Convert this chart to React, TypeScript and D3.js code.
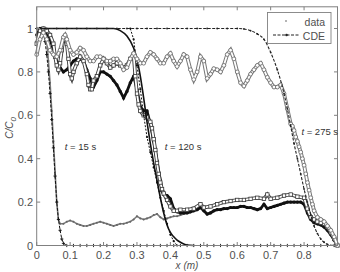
import React from 'react';
import * as d3 from 'd3';

// x positions (m) and C/C0 values
const cde15: [number, number][] = [
  [0, 1], [0.01, 1], [0.02, 0.98], [0.025, 0.94], [0.03, 0.88], [0.035, 0.8], [0.04, 0.7],
  [0.045, 0.58], [0.05, 0.45], [0.055, 0.32], [0.06, 0.2], [0.065, 0.12], [0.07, 0.07],
  [0.075, 0.03], [0.08, 0.01], [0.09, 0], [0.11, 0], [0.13, 0], [0.15, 0], [0.17, 0], [0.19, 0],
  [0.21, 0], [0.23, 0], [0.25, 0], [0.27, 0], [0.29, 0], [0.31, 0], [0.33, 0], [0.35, 0],
  [0.37, 0], [0.39, 0], [0.41, 0], [0.43, 0], [0.45, 0], [0.47, 0], [0.49, 0], [0.51, 0],
  [0.53, 0], [0.55, 0], [0.57, 0], [0.59, 0], [0.61, 0], [0.63, 0], [0.65, 0], [0.67, 0],
  [0.69, 0], [0.71, 0], [0.73, 0], [0.75, 0], [0.77, 0], [0.79, 0], [0.81, 0], [0.83, 0],
  [0.85, 0], [0.87, 0], [0.89, 0], [0.9, 0],
];

const cde120Smooth: [number, number][] = [
  [0, 1], [0.1, 1], [0.2, 1], [0.23, 1], [0.25, 0.99], [0.27, 0.965], [0.29, 0.91], [0.3, 0.86],
  [0.31, 0.78], [0.32, 0.68], [0.33, 0.57], [0.34, 0.47], [0.35, 0.38], [0.36, 0.3],
  [0.37, 0.22], [0.38, 0.15], [0.39, 0.095], [0.4, 0.06], [0.41, 0.04], [0.42, 0.025],
  [0.43, 0.015], [0.44, 0.007], [0.45, 0.002], [0.47, 0],
];

const cde120: [number, number][] = [
  [0.28, 1], [0.29, 0.95], [0.3, 0.83], [0.31, 0.72], [0.32, 0.6], [0.33, 0.5], [0.34, 0.43],
  [0.35, 0.36], [0.36, 0.29], [0.37, 0.22], [0.38, 0.16], [0.39, 0.1], [0.4, 0.05],
  [0.41, 0.02], [0.42, 0],
];

const cde275: [number, number][] = [
  [0, 1], [0.03, 1], [0.06, 1], [0.09, 1], [0.12, 1], [0.15, 1], [0.18, 1], [0.21, 1], [0.24, 1],
  [0.27, 1], [0.3, 1], [0.33, 1], [0.36, 1], [0.39, 1], [0.42, 1], [0.45, 1], [0.48, 1],
  [0.51, 1], [0.54, 1], [0.57, 1], [0.6, 1], [0.62, 0.998], [0.64, 0.99], [0.66, 0.975],
  [0.68, 0.95], [0.7, 0.89], [0.72, 0.81], [0.74, 0.7], [0.75, 0.63], [0.76, 0.55],
  [0.77, 0.47], [0.78, 0.4], [0.79, 0.33], [0.8, 0.26], [0.81, 0.2], [0.82, 0.14],
  [0.83, 0.09], [0.84, 0.055], [0.85, 0.03], [0.86, 0.015], [0.87, 0.005], [0.89, 0],
];

const data15: [number, number][] = [
  [0, 0.96], [0.01, 0.99], [0.02, 1], [0.03, 0.95], [0.035, 0.85], [0.04, 0.75], [0.045, 0.62],
  [0.05, 0.48], [0.055, 0.34], [0.06, 0.2], [0.065, 0.12], [0.07, 0.1], [0.08, 0.1],
  [0.09, 0.11], [0.1, 0.115], [0.11, 0.11], [0.12, 0.1], [0.13, 0.095], [0.14, 0.09],
  [0.15, 0.09], [0.16, 0.095], [0.17, 0.1], [0.18, 0.105], [0.19, 0.11], [0.2, 0.105],
  [0.21, 0.1], [0.22, 0.095], [0.23, 0.09], [0.24, 0.095], [0.25, 0.1], [0.26, 0.1],
  [0.27, 0.105], [0.28, 0.11], [0.29, 0.12], [0.3, 0.135], [0.31, 0.125], [0.32, 0.12],
  [0.33, 0.125], [0.34, 0.13], [0.35, 0.14], [0.36, 0.145], [0.37, 0.13], [0.38, 0.12],
  [0.39, 0.125], [0.4, 0.13], [0.41, 0.135], [0.42, 0.135], [0.43, 0.14], [0.44, 0.145],
  [0.45, 0.15], [0.46, 0.16], [0.47, 0.165],
];

const data120: [number, number][] = [
  [0, 0.93], [0.01, 0.99], [0.02, 1], [0.03, 0.99], [0.04, 0.97], [0.05, 0.93], [0.055, 0.87],
  [0.06, 0.83], [0.065, 0.81], [0.07, 0.84], [0.075, 0.9], [0.08, 0.95], [0.085, 0.96],
  [0.09, 0.93], [0.095, 0.86], [0.1, 0.79], [0.105, 0.77], [0.11, 0.8], [0.12, 0.84],
  [0.13, 0.87], [0.14, 0.85], [0.15, 0.79], [0.155, 0.74], [0.16, 0.72], [0.165, 0.72],
  [0.17, 0.76], [0.18, 0.78], [0.19, 0.83], [0.2, 0.86], [0.21, 0.84], [0.22, 0.82],
  [0.23, 0.83], [0.24, 0.84], [0.25, 0.83], [0.26, 0.82], [0.27, 0.83], [0.28, 0.86],
  [0.29, 0.88], [0.295, 0.78], [0.3, 0.7], [0.305, 0.65], [0.31, 0.62], [0.32, 0.6],
  [0.33, 0.59], [0.34, 0.57], [0.345, 0.54], [0.35, 0.49], [0.355, 0.44], [0.36, 0.38],
  [0.365, 0.33], [0.37, 0.29], [0.375, 0.26], [0.38, 0.24], [0.39, 0.21], [0.4, 0.18],
  [0.41, 0.16], [0.42, 0.16], [0.43, 0.165], [0.45, 0.165], [0.47, 0.17], [0.49, 0.19],
  [0.5, 0.175], [0.52, 0.18], [0.54, 0.19], [0.56, 0.2], [0.58, 0.205], [0.6, 0.21],
  [0.62, 0.21], [0.64, 0.215], [0.66, 0.22], [0.68, 0.215], [0.69, 0.235], [0.7, 0.215],
  [0.72, 0.22], [0.74, 0.23], [0.76, 0.235], [0.78, 0.225], [0.8, 0.22], [0.81, 0.17],
  [0.82, 0.13], [0.83, 0.12], [0.84, 0.11], [0.85, 0.105], [0.86, 0.1], [0.87, 0.085],
  [0.88, 0.06], [0.89, 0.03], [0.9, 0],
];

const data120b: [number, number][] = [
  [0, 0.97], [0.01, 1], [0.02, 1], [0.03, 0.98], [0.04, 0.95], [0.05, 0.9], [0.06, 0.85],
  [0.07, 0.82], [0.08, 0.8], [0.09, 0.81], [0.1, 0.83], [0.11, 0.85], [0.12, 0.86],
  [0.13, 0.86], [0.14, 0.85], [0.15, 0.81], [0.16, 0.77], [0.17, 0.73], [0.18, 0.76],
  [0.19, 0.8], [0.2, 0.8], [0.21, 0.79], [0.22, 0.78], [0.23, 0.76], [0.24, 0.74],
  [0.25, 0.71], [0.26, 0.68], [0.27, 0.71], [0.28, 0.75], [0.29, 0.78], [0.3, 0.72],
  [0.31, 0.64], [0.32, 0.62], [0.33, 0.62], [0.34, 0.56], [0.35, 0.48], [0.36, 0.39],
  [0.37, 0.3], [0.375, 0.25], [0.38, 0.235], [0.39, 0.23], [0.4, 0.215], [0.41, 0.17],
  [0.42, 0.155], [0.43, 0.15], [0.44, 0.15], [0.45, 0.15], [0.46, 0.155], [0.47, 0.16],
  [0.48, 0.165], [0.49, 0.175], [0.5, 0.16], [0.51, 0.145], [0.52, 0.15], [0.53, 0.16],
  [0.54, 0.165], [0.55, 0.165], [0.56, 0.17], [0.57, 0.17], [0.58, 0.175], [0.59, 0.175],
  [0.6, 0.175], [0.61, 0.18], [0.62, 0.18], [0.63, 0.175], [0.64, 0.175], [0.65, 0.17],
  [0.66, 0.165], [0.67, 0.17], [0.68, 0.19], [0.69, 0.17], [0.7, 0.175], [0.71, 0.18],
  [0.72, 0.185], [0.73, 0.19], [0.74, 0.195], [0.75, 0.2], [0.76, 0.2], [0.77, 0.2],
  [0.78, 0.2], [0.79, 0.2], [0.8, 0.19], [0.81, 0.15], [0.82, 0.12], [0.83, 0.105],
  [0.84, 0.1], [0.85, 0.095], [0.86, 0.085], [0.87, 0.07], [0.88, 0.05], [0.89, 0.025],
  [0.9, 0],
];

const data275: [number, number][] = [
  [0, 0.88], [0.01, 0.95], [0.02, 0.98], [0.03, 0.95], [0.04, 0.9], [0.05, 0.88], [0.06, 0.87],
  [0.07, 0.9], [0.08, 0.96], [0.085, 0.97], [0.09, 0.95], [0.1, 0.9], [0.11, 0.88],
  [0.12, 0.89], [0.13, 0.91], [0.14, 0.9], [0.15, 0.87], [0.16, 0.85], [0.17, 0.85],
  [0.18, 0.87], [0.19, 0.87], [0.2, 0.86], [0.21, 0.85], [0.22, 0.85], [0.23, 0.86],
  [0.24, 0.86], [0.25, 0.84], [0.26, 0.81], [0.27, 0.82], [0.28, 0.86], [0.29, 0.885],
  [0.3, 0.86], [0.31, 0.84], [0.32, 0.84], [0.33, 0.87], [0.34, 0.89], [0.35, 0.88],
  [0.36, 0.86], [0.37, 0.84], [0.38, 0.84], [0.39, 0.87], [0.4, 0.885], [0.41, 0.85],
  [0.42, 0.825], [0.43, 0.85], [0.44, 0.88], [0.45, 0.87], [0.46, 0.81], [0.47, 0.765],
  [0.48, 0.8], [0.49, 0.87], [0.5, 0.85], [0.51, 0.77], [0.52, 0.79], [0.53, 0.815],
  [0.54, 0.81], [0.55, 0.8], [0.56, 0.83], [0.57, 0.88], [0.58, 0.9], [0.59, 0.86],
  [0.6, 0.8], [0.61, 0.75], [0.62, 0.735], [0.63, 0.76], [0.64, 0.79], [0.65, 0.81],
  [0.66, 0.83], [0.67, 0.84], [0.68, 0.81], [0.69, 0.775], [0.7, 0.75], [0.71, 0.73],
  [0.72, 0.73], [0.73, 0.74], [0.74, 0.7], [0.75, 0.63], [0.76, 0.56], [0.765, 0.55],
  [0.77, 0.53], [0.775, 0.5], [0.78, 0.48], [0.785, 0.455], [0.79, 0.43], [0.795, 0.4],
  [0.8, 0.37], [0.805, 0.33], [0.81, 0.29], [0.815, 0.255], [0.82, 0.22], [0.825, 0.19],
  [0.83, 0.16], [0.84, 0.13], [0.85, 0.12], [0.86, 0.11], [0.87, 0.09], [0.88, 0.07],
  [0.89, 0.04], [0.9, 0],
];

const xTicks = [0, 0.1, 0.2, 0.3, 0.4, 0.5, 0.6, 0.7, 0.8, 0.9];
const xTickLabels = ['0', '0.1', '0.2', '0.3', '0.4', '0.5', '0.6', '0.7', '0.8', ''];
const yTicks = [0, 0.2, 0.4, 0.6, 0.8, 1];
const yTickLabels = ['0', '0.2', '0.4', '0.6', '0.8', '1'];

const labels = [
  { t: '15', x: 0.084, y: 0.44 },
  { t: '120', x: 0.383, y: 0.44 },
  { t: '275', x: 0.792, y: 0.51 },
];

export default function App() {
  const x = d3.scaleLinear().domain([0, 0.9]).range([36.7, 337.5]);
  const y = d3.scaleLinear().domain([0, 1.1]).range([245.5, 6.8]);
  const line = d3.line<[number, number]>().x(d => x(d[0])).y(d => y(d[1]));
  const smooth = d3.line<[number, number]>().x(d => x(d[0])).y(d => y(d[1])).curve(d3.curveMonotoneX);
  const axisCol = '#808080';
  const textCol = '#505050';
  const font = 'Liberation Sans, Arial, sans-serif';
  const [x0, x1] = x.range();
  const [y0, y1] = y.range();

  return (
    <svg width={340} height={272} style={{ position: 'fixed', left: 0, top: 0, background: '#fff' }}
      fontFamily={font}>
      <rect x={0} y={0} width={340} height={272} fill="#fff" />

      {/* t = 15 s */}
      <path d={line(data15) || ''} fill="none" stroke="#7a7a7a" strokeWidth={1.6} />
      {data15.map((d, i) => (
        <circle key={'d15' + i} cx={x(d[0])} cy={y(d[1])} r={1} fill="#666" />
      ))}
      <path d={line(cde15) || ''} fill="none" stroke="#111" strokeWidth={1} strokeDasharray="3,1.5" />
      {cde15.map((d, i) => (
        <g key={'c15' + i} stroke="#111" strokeWidth={0.9}>
          <line x1={x(d[0]) - 1.6} x2={x(d[0]) + 1.6} y1={y(d[1])} y2={y(d[1])} />
          <line x1={x(d[0])} x2={x(d[0])} y1={y(d[1]) - 1.6} y2={y(d[1]) + 1.6} />
        </g>
      ))}

      {/* t = 120 s */}
      <path d={line(data120b) || ''} fill="none" stroke="#111" strokeWidth={2.8} />
      {data120b.map((d, i) => (
        <circle key={'b' + i} cx={x(d[0])} cy={y(d[1])} r={1.6} fill="#111" />
      ))}
      <path d={line(data120) || ''} fill="none" stroke="#3a3a3a" strokeWidth={3.6} />
      <path d={line(data120) || ''} fill="none" stroke="#fff" strokeWidth={1.8} />
      {data120.map((d, i) => (
        <rect key={'s' + i} x={x(d[0]) - 1.7} y={y(d[1]) - 1.7} width={3.4} height={3.4}
          fill="#fff" stroke="#3a3a3a" strokeWidth={0.8} />
      ))}
      <path d={smooth(cde120Smooth) || ''} fill="none" stroke="#111" strokeWidth={1.6} />
      <path d={line(cde120) || ''} fill="none" stroke="#111" strokeWidth={1} strokeDasharray="2,1.5" />
      {cde120.map((d, i) => (
        <circle key={'c120' + i} cx={x(d[0])} cy={y(d[1])} r={1.1} fill="#111" />
      ))}

      {/* t = 275 s */}
      <path d={line(data275) || ''} fill="none" stroke="#777" strokeWidth={3.8} />
      <path d={line(data275) || ''} fill="none" stroke="#fff" strokeWidth={1.8} />
      {data275.map((d, i) => (
        <circle key={'o' + i} cx={x(d[0])} cy={y(d[1])} r={1.9} fill="#fff" stroke="#666" strokeWidth={0.8} />
      ))}
      <path d={smooth(cde275) || ''} fill="none" stroke="#222" strokeWidth={1.1} strokeDasharray="3,1.5" />
      {cde275.map((d, i) => (
        <circle key={'c275' + i} cx={x(d[0])} cy={y(d[1])} r={0.9} fill="#222" />
      ))}

      {/* axes box */}
      <rect x={x0} y={y1} width={x1 - x0} height={y0 - y1} fill="none" stroke={axisCol} strokeWidth={1} />
      {xTicks.map((t, i) => (
        <g key={'xt' + i}>
          <line x1={x(t)} x2={x(t)} y1={y0} y2={y0 - 3.5} stroke={axisCol} />
          <line x1={x(t)} x2={x(t)} y1={y1} y2={y1 + 3.5} stroke={axisCol} />
          <text x={x(t)} y={259} textAnchor="middle" fontSize={11} fill={textCol}>{xTickLabels[i]}</text>
        </g>
      ))}
      {yTicks.map((t, i) => (
        <g key={'yt' + i}>
          <line x1={x0} x2={x0 + 3.5} y1={y(t)} y2={y(t)} stroke={axisCol} />
          <line x1={x1} x2={x1 - 3.5} y1={y(t)} y2={y(t)} stroke={axisCol} />
          <text x={33} y={y(t) + 4} textAnchor="end" fontSize={11} fill={textCol}>{yTickLabels[i]}</text>
        </g>
      ))}

      {/* axis titles */}
      <text x={187} y={269} textAnchor="middle" fontSize={10} fill={textCol} fontStyle="italic">x (m)</text>
      <text transform="translate(13,128) rotate(-90)" textAnchor="middle" fontSize={10} fill={textCol} fontStyle="italic">
        C/C<tspan fontSize={8} dy={2.5}>0</tspan>
      </text>

      {/* time labels */}
      {labels.map(l => (
        <text key={l.t} x={x(l.x)} y={y(l.y)} fontSize={9.5} fill="#333">
          <tspan fontStyle="italic">t</tspan> = {l.t} s
        </text>
      ))}

      {/* legend */}
      <rect x={267.5} y={12.5} width={63.5} height={31} fill="#fff" stroke={axisCol} strokeWidth={0.9} />
      <circle cx={286} cy={21} r={0.8} fill="#555" />
      <text x={325} y={26} textAnchor="end" fontSize={10.5} fill={textCol}>data</text>
      <line x1={273} x2={299} y1={35} y2={35} stroke="#222" strokeDasharray="3,1.5" />
      <circle cx={286.5} cy={35} r={1.3} fill="#222" />
      <text x={325} y={39.5} textAnchor="end" fontSize={10.5} fill={textCol}>CDE</text>
    </svg>
  );
}
